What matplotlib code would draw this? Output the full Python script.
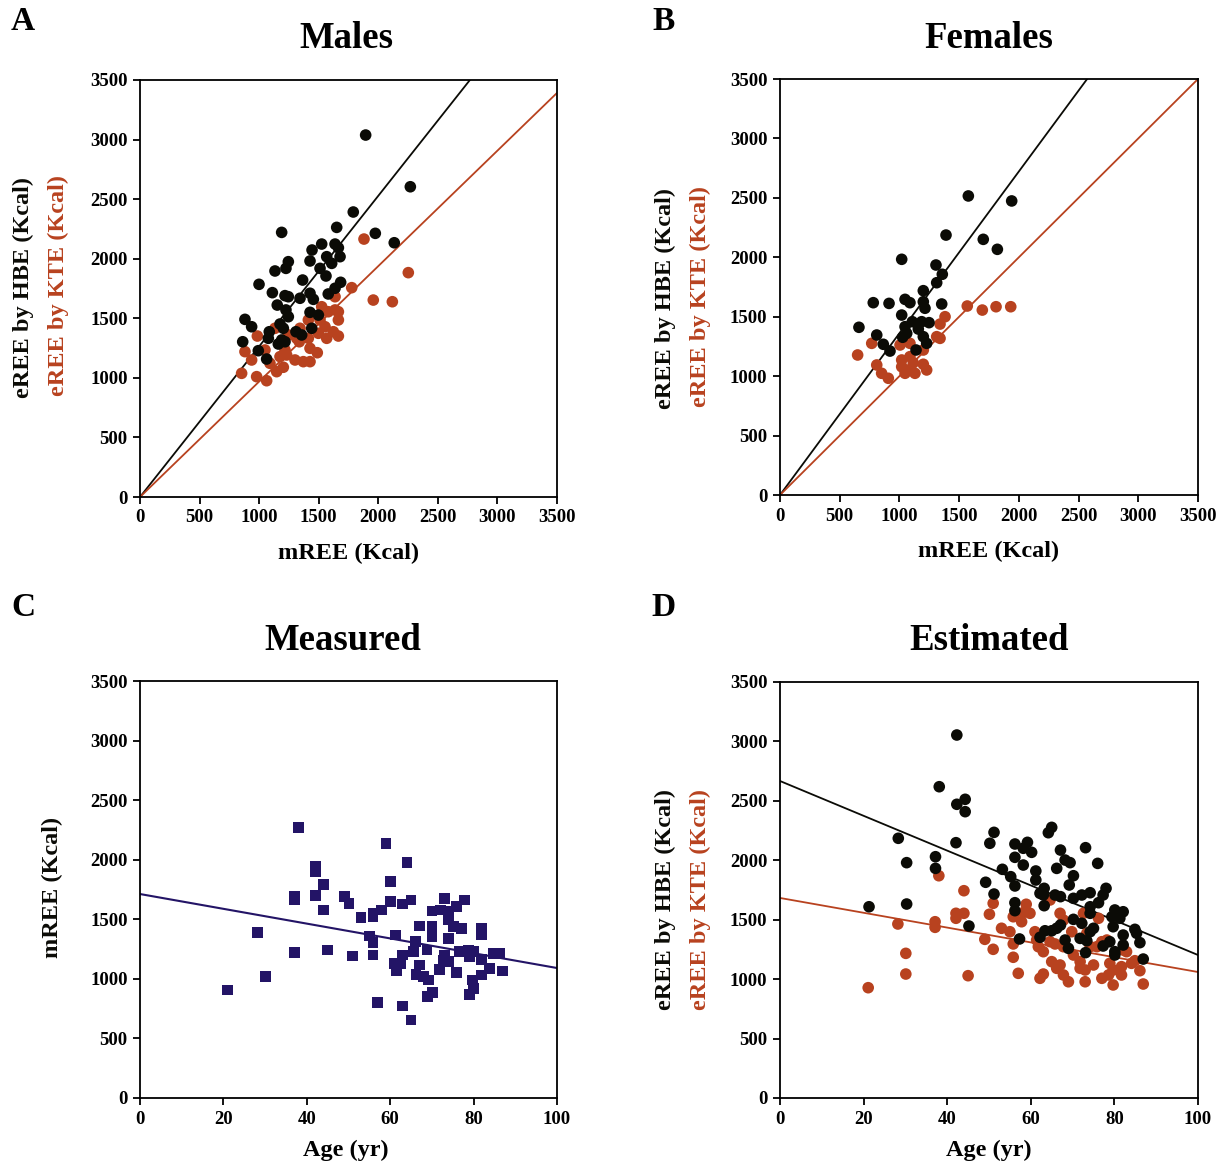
import matplotlib
matplotlib.use('Agg')
import matplotlib.pyplot as plt
import numpy as np

plt.rcParams['font.family'] = ['Liberation Serif', 'DejaVu Serif']
plt.rcParams['font.weight'] = 'bold'

BLACK = '#0b0b06'
RED = '#b8421f'
NAVY = '#231466'

# Panel A - males: mREE vs eREE
males_hbe_x = [1894, 2269, 1790, 1651, 1189, 1975, 2134, 1525, 1637, 1665, 1444, 1679, 1567,
               1427, 1609, 1245, 1225, 1133, 1511, 1561, 1365, 1684, 999, 1637, 1111, 1217,
               1245, 1427, 1580, 1343, 1455, 1152, 1225, 1245, 1427, 1497, 881, 937, 1175,
               1203, 1085, 1309, 1357, 1441, 1077, 1189, 1161, 862, 993, 1063, 1217]
males_hbe_y = [3038, 2604, 2392, 2263, 2221, 2213, 2134, 2123, 2123, 2092, 2073, 2017, 2017,
               1981, 1961, 1975, 1919, 1897, 1919, 1855, 1821, 1802, 1785, 1752, 1715, 1690,
               1681, 1710, 1704, 1668, 1659, 1611, 1570, 1513, 1550, 1527, 1491, 1429, 1452,
               1416, 1387, 1387, 1360, 1416, 1332, 1318, 1284, 1303, 1228, 1158, 1303]
males_kte_x = [1880, 2252, 1777, 1958, 2118, 1637, 1637, 1665, 1525, 1580, 1665, 1511, 1413,
               1553, 1623, 1665, 1567, 1497, 1343, 1245, 1413, 1427, 1488, 1337, 1217, 1175,
               1231, 1301, 1371, 1427, 1203, 1147, 1091, 985, 1133, 881, 937, 853, 979, 1063,
               1315, 1049]
males_kte_y = [2165, 1883, 1757, 1653, 1639, 1681, 1570, 1555, 1597, 1555, 1486, 1486, 1486,
               1429, 1387, 1351, 1332, 1374, 1416, 1360, 1332, 1248, 1211, 1303, 1234, 1178,
               1192, 1150, 1136, 1136, 1089, 1052, 1122, 1351, 1416, 1220, 1150, 1038, 1010, 976,
               1332, 1234]
males_slopes = [1.264, 0.969]  # HBE, KTE lines through origin

# Panel B - females
females_hbe_x = [1577, 1940, 1390, 1702, 1820, 1019, 1306, 1359, 1312, 1200, 781, 913, 1047,
                 1088, 1200, 1354, 1214, 1019, 1108, 1047, 1186, 1248, 661, 810, 1061, 1158,
                 1027, 1200, 1228, 865, 921, 1139]
females_hbe_y = [2516, 2474, 2187, 2151, 2067, 1983, 1935, 1857, 1786, 1719, 1618, 1612, 1646,
                 1618, 1626, 1607, 1571, 1514, 1458, 1416, 1458, 1450, 1411, 1346, 1360, 1396,
                 1327, 1332, 1276, 1268, 1211, 1220]
females_kte_x = [1568, 1694, 1809, 1932, 1382, 1340, 1312, 1340, 768, 650, 1005, 1088, 1200,
                 810, 851, 907, 1019, 1088, 1019, 1074, 1130, 1200, 1228, 1047, 1116]
females_kte_y = [1590, 1556, 1584, 1584, 1500, 1438, 1332, 1318, 1276, 1178, 1262, 1276, 1220,
                 1094, 1024, 982, 1136, 1164, 1079, 1052, 1024, 1100, 1052, 1024, 1112]
females_slopes = [1.361, 1.0]

# Panel C - measured REE vs age
age_c = [38.0, 59.0, 64.0, 42.0, 42.0, 44.0, 60.0, 37.1, 37.1, 42.0, 49.0, 50.1, 44.0, 60.1,
         63.0, 65.0, 73.0, 77.9, 75.9, 58.0, 55.9, 55.9, 53.0, 70.0, 72.0, 74.0, 67.1, 70.0,
         74.0, 75.1, 77.1, 81.9, 81.9, 70.0, 74.0, 55.0, 55.9, 61.2, 66.0, 65.5, 68.8, 76.7,
         78.7, 79.9, 84.7, 86.3, 79.0, 81.9, 83.9, 86.9, 81.9, 79.8, 79.9, 79.0, 75.9, 73.1,
         72.7, 74.0, 71.9, 67.1, 66.2, 67.9, 69.1, 70.1, 69.0, 63.0, 62.4, 61.6, 61.0, 55.9,
         51.0, 45.0, 37.1, 28.1, 30.1, 21.0, 57.0, 63.0, 65.0]
mree_c = [2269, 2138, 1978, 1941, 1899, 1793, 1816, 1690, 1662, 1698, 1690, 1634, 1578, 1648,
          1628, 1662, 1676, 1662, 1606, 1578, 1550, 1522, 1517, 1570, 1578, 1564, 1444, 1444,
          1494, 1438, 1424, 1424, 1368, 1354, 1340, 1360, 1303, 1368, 1312, 1228, 1242, 1228,
          1242, 1228, 1214, 1214, 1186, 1164, 1088, 1066, 1032, 990, 921, 870, 1055, 1200,
          1158, 1144, 1080, 1116, 1038, 1018, 990, 884, 850, 1200, 1130, 1068, 1130, 1200,
          1192, 1242, 1223, 1388, 1018, 906, 803, 772, 655]
measured_fit = [1712, -6.21]  # intercept, slope

# Panel D - estimated REE vs age
age_d_hbe = [42.3, 38.1, 42.3, 44.3, 44.3, 28.3, 42.1, 30.3, 37.2, 37.2, 51.2, 50.2, 65.0, 64.2,
             56.2, 59.2, 58.2, 60.2, 56.2, 58.2, 67.1, 73.1, 68.2, 69.4, 66.2, 76.0, 53.2, 61.2,
             61.2, 55.2, 56.2, 70.2, 69.2, 49.2, 51.2, 63.2, 62.2, 63.0, 65.8, 67.1, 70.2, 72.2,
             74.2, 78.0, 77.3, 76.2, 74.2, 74.2, 56.2, 56.2, 63.2, 80.1, 82.1, 79.4, 81.3, 70.2,
             72.2, 67.1, 66.2, 65.0, 63.4, 62.2, 75.0, 74.2, 79.7, 82.1, 84.9, 85.3, 86.1, 82.1,
             68.2, 71.8, 73.4, 69.0, 57.3, 78.9, 77.3, 80.1, 80.1, 73.1, 86.9, 45.2, 30.3, 21.3]
ree_d_hbe = [3054, 2619, 2471, 2513, 2409, 2185, 2148, 1980, 2030, 1932, 2235, 2143, 2277, 2232,
             2137, 2151, 2101, 2067, 2025, 1960, 2086, 2106, 2002, 1980, 1932, 1974, 1924, 1910,
             1834, 1862, 1784, 1870, 1792, 1815, 1716, 1764, 1722, 1708, 1708, 1694, 1680, 1708,
             1727, 1764, 1708, 1643, 1609, 1554, 1643, 1576, 1618, 1582, 1567, 1525, 1512, 1503,
             1470, 1455, 1428, 1407, 1407, 1352, 1428, 1399, 1441, 1371, 1419, 1386, 1307, 1287,
             1329, 1343, 1323, 1259, 1338, 1315, 1279, 1231, 1203, 1223, 1169, 1447, 1632, 1609]
age_d_kte = [21.1, 30.1, 30.1, 28.2, 37.1, 37.1, 38.0, 44.0, 42.1, 44.0, 42.1, 45.0, 49.0, 51.0,
             50.1, 51.0, 53.0, 55.0, 55.8, 57.8, 58.9, 59.8, 55.8, 55.8, 57.0, 61.0, 61.8, 63.0,
             62.2, 63.0, 65.0, 66.2, 67.0, 67.8, 69.0, 67.0, 67.8, 64.6, 65.8, 67.8, 69.8, 70.2,
             71.8, 71.8, 73.0, 73.0, 75.0, 72.6, 76.2, 77.0, 78.2, 77.0, 78.6, 79.7, 78.9, 79.7,
             81.7, 81.7, 82.9, 84.1, 84.9, 86.1, 86.9, 82.1, 74.2, 75.8, 73.4, 64.6, 61.4, 58.2]
ree_d_kte = [928, 1217, 1043, 1464, 1483, 1436, 1870, 1744, 1554, 1554, 1512, 1029, 1335, 1251,
             1546, 1638, 1428, 1399, 1525, 1483, 1630, 1554, 1296, 1184, 1049, 1399, 1273, 1231,
             1007, 1043, 1147, 1091, 1119, 1035, 978, 1554, 1497, 1666, 1296, 1273, 1399, 1203,
             1147, 1091, 1077, 978, 1119, 1554, 1512, 1315, 1329, 1007, 1035, 951, 1133, 1077,
             1105, 1035, 1231, 1133, 1155, 1071, 959, 1245, 1273, 1273, 1386, 1315, 1329, 1560]
hbe_fit = [2667, -14.64]
kte_fit = [1683, -6.23]

W, H = 1223, 1163
fig = plt.figure(figsize=(W / 100, H / 100), dpi=100)


def make_axes(x0, y0, x1, y1):
    ax = fig.add_axes([x0 / W, 1 - y1 / H, (x1 - x0) / W, (y1 - y0) / H])
    for s in ax.spines.values():
        s.set_linewidth(1.3)
    ax.tick_params(direction='out', length=5, width=1.3, labelsize=13.5,
                   top=False, right=False, pad=4)
    return ax


def style_ticks(ax):
    for lab in ax.get_xticklabels() + ax.get_yticklabels():
        lab.set_fontweight('bold')


def scatter_panel(ax, hx, hy, kx, ky, slopes):
    xs = np.array([0, 3500])
    ax.plot(xs, slopes[0] * xs, color=BLACK, lw=1.3, zorder=1)
    ax.plot(xs, slopes[1] * xs, color=RED, lw=1.3, zorder=1)
    ax.scatter(kx, ky, s=70, color=RED, edgecolors='none', zorder=2)
    ax.scatter(hx, hy, s=70, color=BLACK, edgecolors='none', zorder=3)
    ax.set_xlim(0, 3500)
    ax.set_ylim(0, 3500)
    ax.set_xticks(range(0, 3501, 500))
    ax.set_yticks(range(0, 3501, 500))
    style_ticks(ax)


axA = make_axes(140, 80, 557, 497)
scatter_panel(axA, males_hbe_x, males_hbe_y, males_kte_x, males_kte_y, males_slopes)
axB = make_axes(780, 79, 1198, 495)
scatter_panel(axB, females_hbe_x, females_hbe_y, females_kte_x, females_kte_y, females_slopes)

axC = make_axes(140, 681, 557, 1098)
ages = np.array([0, 100])
axC.plot(ages, measured_fit[0] + measured_fit[1] * ages, color=NAVY, lw=1.5, zorder=1)
axC.scatter(age_c, mree_c, s=60, marker='s', color=NAVY, edgecolors='none', zorder=2)
axC.set_xlim(0, 100)
axC.set_ylim(0, 3500)
axC.set_xticks(range(0, 101, 20))
axC.set_yticks(range(0, 3501, 500))
style_ticks(axC)

axD = make_axes(780, 682, 1198, 1098)
axD.plot(ages, hbe_fit[0] + hbe_fit[1] * ages, color=BLACK, lw=1.3, zorder=1)
axD.plot(ages, kte_fit[0] + kte_fit[1] * ages, color=RED, lw=1.3, zorder=1)
axD.scatter(age_d_kte, ree_d_kte, s=70, color=RED, edgecolors='none', zorder=2)
axD.scatter(age_d_hbe, ree_d_hbe, s=70, color=BLACK, edgecolors='none', zorder=3)
axD.set_xlim(0, 100)
axD.set_ylim(0, 3500)
axD.set_xticks(range(0, 101, 20))
axD.set_yticks(range(0, 3501, 500))
style_ticks(axD)

# titles, panel letters, axis labels
title_kw = dict(fontsize=26.5, fontweight='bold', ha='center', va='center')
fig.text(346 / W, 1 - 38 / H, 'Males', **title_kw)
fig.text(989 / W, 1 - 38 / H, 'Females', **title_kw)
fig.text(343 / W, 1 - 640 / H, 'Measured', **title_kw)
fig.text(989 / W, 1 - 640 / H, 'Estimated', **title_kw)

letter_kw = dict(fontsize=24, fontweight='bold', ha='center', va='center')
for lx, ly, t in [(23, 22, 'A'), (664, 22, 'B'), (23, 607, 'C'), (664, 607, 'D')]:
    fig.text(lx / W, 1 - ly / H, t, **letter_kw)

xl_kw = dict(fontsize=17.5, fontweight='bold', ha='center', va='center')
fig.text(349 / W, 1 - 553 / H, 'mREE (Kcal)', **xl_kw)
fig.text(989 / W, 1 - 551 / H, 'mREE (Kcal)', **xl_kw)
fig.text(346 / W, 1 - 1150 / H, 'Age (yr)', **xl_kw)
fig.text(989 / W, 1 - 1150 / H, 'Age (yr)', **xl_kw)

yl_kw = dict(fontsize=17.5, fontweight='bold', ha='center', va='center', rotation=90)
fig.text(23 / W, 1 - 288 / H, 'eREE by HBE (Kcal)', color=BLACK, **yl_kw)
fig.text(58 / W, 1 - 286 / H, 'eREE by KTE (Kcal)', color=RED, **yl_kw)
fig.text(665 / W, 1 - 298 / H, 'eREE by HBE (Kcal)', color=BLACK, **yl_kw)
fig.text(700 / W, 1 - 296 / H, 'eREE by KTE (Kcal)', color=RED, **yl_kw)
fig.text(52 / W, 1 - 887 / H, 'mREE (Kcal)', color=BLACK, **yl_kw)
fig.text(665 / W, 1 - 900 / H, 'eREE by HBE (Kcal)', color=BLACK, **yl_kw)
fig.text(700 / W, 1 - 900 / H, 'eREE by KTE (Kcal)', color=RED, **yl_kw)

fig.savefig('out.png', dpi=100)
